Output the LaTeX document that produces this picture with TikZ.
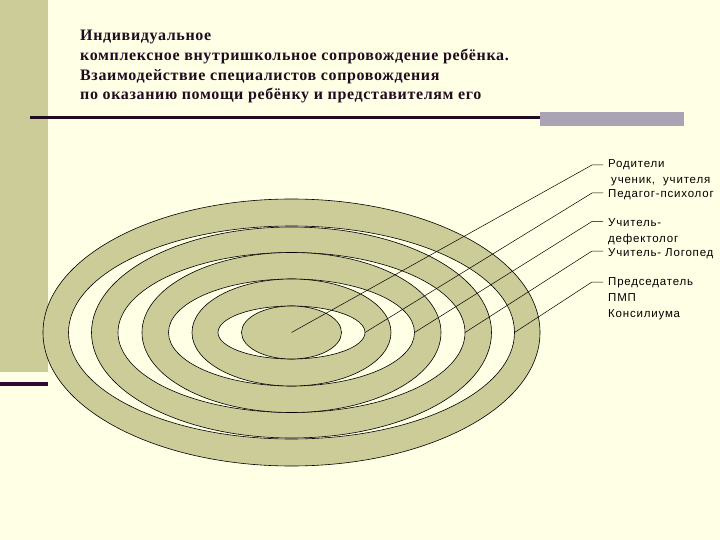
\documentclass[tikz,border=0pt]{standalone}
\usepackage{fontspec}
\setmainfont{Liberation Serif}
\newfontfamily\headfont[LetterSpace=4]{Liberation Serif}
\newfontfamily\labfont[LetterSpace=7]{Liberation Sans}
\definecolor{bgc}{RGB}{255,255,229}
\definecolor{olv}{RGB}{204,204,153}
\definecolor{ink}{RGB}{32,12,32}
\definecolor{dpurple}{RGB}{48,10,48}
\definecolor{gbar}{RGB}{170,163,180}
\tikzset{
  ring/.style={draw=black,line width=0.6pt},
  head/.style={anchor=base west,inner sep=0pt,text=ink,font=\headfont\fontsize{16pt}{18pt}\selectfont\bfseries},
  lab/.style={anchor=base west,inner sep=0pt,text=black,font=\labfont\fontsize{11.5pt}{13pt}\selectfont},
  leader/.style={draw=black,line width=0.5pt}
}
\begin{document}
\begin{tikzpicture}[x=1pt,y=-1pt]
\useasboundingbox (0,0) rectangle (720,540);
\fill[bgc] (0,0) rectangle (720,540);
\fill[olv] (0,0) rectangle (48,372);
\fill[dpurple] (0,382) rectangle (48,386);
\draw[ink,line width=2.2pt] (30,117.5) -- (540,117.5);
\fill[gbar] (540,111.7) rectangle (684,125.7);
% header
\node[head] (h1) at (80,41) {Индивидуальное};
\node[head] (h2) at (80,61) {комплексное внутришкольное сопровождение ребёнка.};
\node[head] (h3) at (80,80.5) {Взаимодействие специалистов сопровождения};
\node[head] (h4) at (80,100) {по оказанию помощи ребёнку и представителям его};
% rings
\coordinate (c) at (291.5,332.5);
\foreach \rx/\ry/\col in {248.5/133.5/olv,223/106.5/bgc,200/105.5/olv,173.5/80/bgc,149.5/80/olv,123/53.5/bgc,99.5/53.5/olv,73.5/26.5/bgc,50/26.5/olv}{
  \filldraw[ring,fill=\col] (c) ellipse [x radius=\rx pt, y radius=\ry pt];
}
\coordinate (e1) at (291.5,332.5);
\coordinate (e2) at (365,332.5);
\coordinate (e3) at (414.5,332.5);
\coordinate (e4) at (465,332.5);
\coordinate (e5) at (514.5,332.5);
% labels
\node[lab] (l1) at (608,168) {Родители};
\node[lab] (l1b) at (611,184) {ученик,\ \ учителя};
\node[lab] (l2) at (608,197) {Педагог-психолог};
\node[lab] (l3) at (608,226) {Учитель-};
\node[lab] (l3b) at (608,242) {дефектолог};
\node[lab] (l4) at (608,256) {Учитель- Логопед};
\node[lab] (l5) at (608,285) {Председатель};
\node[lab] (l5b) at (608,301) {ПМП};
\node[lab] (l5c) at (608,317) {Консилиума};
\coordinate (k1) at (592,165);
\coordinate (k2) at (592,193);
\coordinate (k3) at (592,221.5);
\coordinate (k4) at (592,251);
\coordinate (k5) at (592,282);
\draw[leader] (e1) -- (k1) -- ([xshift=-5pt]l1.west |- k1);
\draw[leader] (e2) -- (k2) -- ([xshift=-5pt]l2.west |- k2);
\draw[leader] (e3) -- (k3) -- ([xshift=-5pt]l3.west |- k3);
\draw[leader] (e4) -- (k4) -- ([xshift=-5pt]l4.west |- k4);
\draw[leader] (e5) -- (k5) -- ([xshift=-5pt]l5.west |- k5);
\end{tikzpicture}
\end{document}
